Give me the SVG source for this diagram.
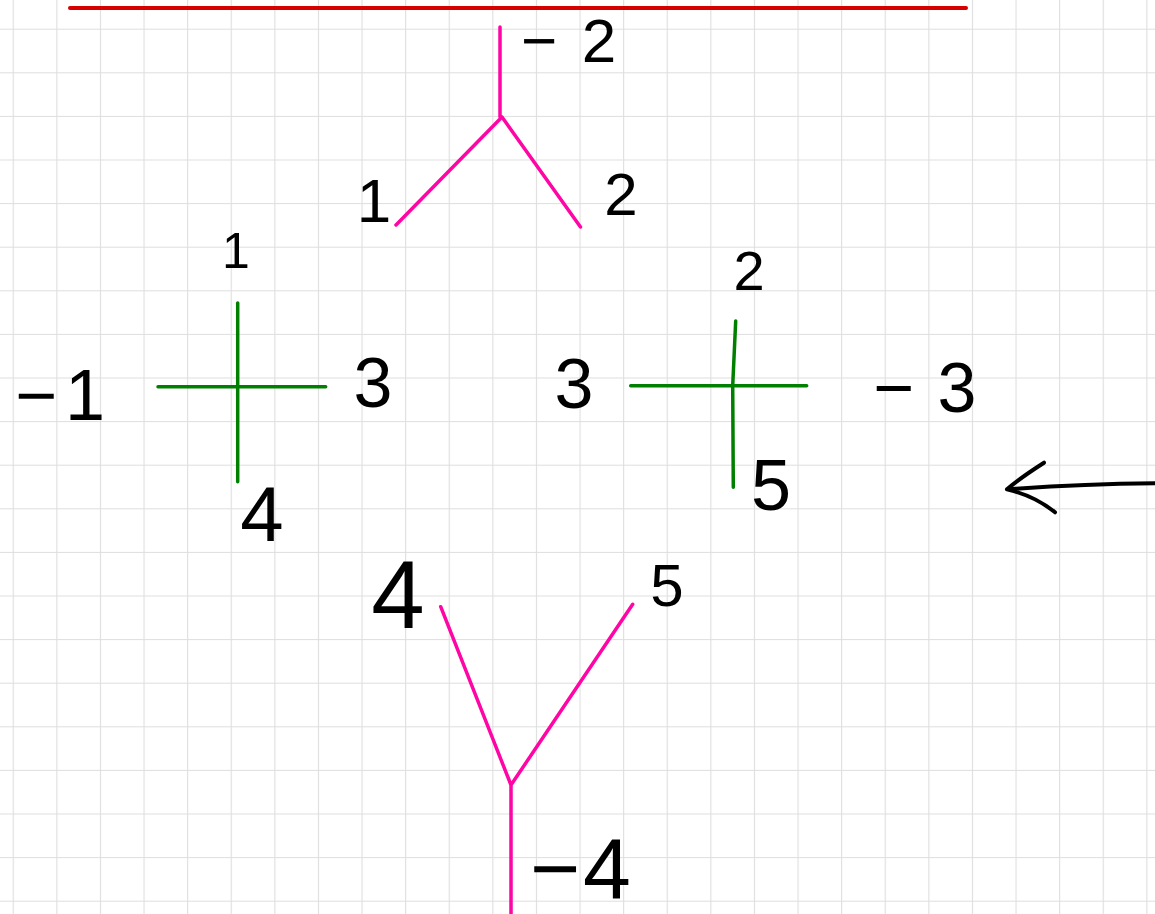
<svg xmlns="http://www.w3.org/2000/svg" width="1155" height="914" viewBox="0 0 1155 914">
  <defs>
    <pattern id="grid" x="12.7" y="28.7" width="43.6" height="43.6" patternUnits="userSpaceOnUse">
      <path d="M0.5 0 V43.6 M0 0.5 H43.6" fill="none" stroke="#dedede" stroke-width="1.2"/>
    </pattern>
  </defs>
  <style>
    .pink { stroke: #ff05a5; stroke-width: 3.5; stroke-linecap: round; fill: none; }
    .green { stroke: #007f00; stroke-width: 3.5; stroke-linecap: round; fill: none; }
    .ink { stroke: #000; stroke-width: 4; stroke-linecap: round; stroke-linejoin: round; fill: none; }
    .lbl { font-family: "Liberation Sans", Arial, sans-serif; fill: #000; text-anchor: middle; }
  </style>
  <rect width="1155" height="914" fill="#fff"/>
  <rect width="1155" height="914" fill="url(#grid)"/>

  <g id="cut-line">
    <line x1="70" y1="8" x2="966" y2="8" stroke="#d60000" stroke-width="4" stroke-linecap="round"/>
  </g>

  <g id="connectors">
    <path id="vertex-top-lines" class="pink" d="M500 27 V117 M502 117 L396 225 M502 117 L580.5 227"/>
    <path id="vertex-bottom-lines" class="pink" d="M511 785 V914 M511 785 L440.7 606.7 M511 785 L632.7 604.3"/>
    <path id="cross-left-lines" class="green" d="M158 386.7 H325.7 M237.7 303 V481.7"/>
    <path id="cross-right-lines" class="green" d="M630.7 385.7 H806.7 M735.7 321 L732.7 385.7 L733.3 487.3"/>
  </g>

  <g id="vertex-top">
    <text class="lbl" font-size="62" y="62"><tspan x="539">−</tspan><tspan x="599">2</tspan></text>
    <text class="lbl" font-size="62" x="374" y="222">1</text>
    <text class="lbl" font-size="60" x="621" y="215">2</text>
  </g>

  <g id="cross-left">
    <text class="lbl" font-size="50" x="236" y="268">1</text>
    <text class="lbl" font-size="72" y="420"><tspan x="36">−</tspan><tspan x="85">1</tspan></text>
    <text class="lbl" font-size="70" x="373" y="407">3</text>
    <text class="lbl" font-size="78" x="262" y="541">4</text>
  </g>

  <g id="cross-right">
    <text class="lbl" font-size="56" x="749" y="290">2</text>
    <text class="lbl" font-size="70" x="574" y="408">3</text>
    <text class="lbl" font-size="70" y="412"><tspan x="894">−</tspan><tspan x="957">3</tspan></text>
    <text class="lbl" font-size="72" x="771" y="510">5</text>
  </g>

  <g id="vertex-bottom">
    <text class="lbl" font-size="96" x="398" y="628">4</text>
    <text class="lbl" font-size="60" x="667" y="606">5</text>
    <text class="lbl" font-size="86" y="898"><tspan x="555">−</tspan><tspan x="607">4</tspan></text>
  </g>

  <g id="arrow">
    <path class="ink" d="M1155 483.3 Q1080 484 1007 489.3 M1044 462.7 Q1020 478 1007 489.3 Q1035 496 1055 512.3"/>
  </g>
</svg>
